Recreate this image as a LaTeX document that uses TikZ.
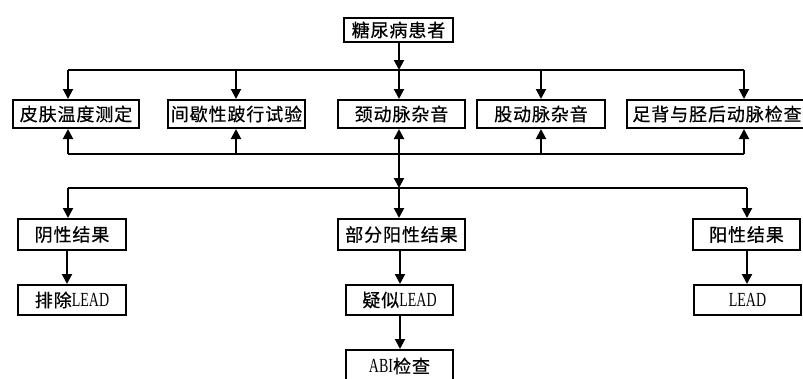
\documentclass[tikz,border=0pt]{standalone}
\usepackage{fontspec}
\usepackage{graphicx}
\setmainfont{Noto Sans CJK SC}[LetterSpace=5,FakeBold=0.5]
\newfontfamily\latfont{Liberation Serif}
\newcommand\LT[1]{{\latfont\fontsize{20}{22}\selectfont\scalebox{0.7}[1]{#1}}}
\usetikzlibrary{arrows.meta}
\begin{document}
\begin{tikzpicture}[x=1pt,y=-1pt,
  box/.style={draw, line width=2pt, rectangle, inner sep=0pt, align=center,
    font=\fontsize{18}{20}\selectfont},
  arr/.style={line width=2pt, -{Triangle[width=10pt,length=10pt]}},
  ln/.style={line width=2pt}]
\useasboundingbox (0,0) rectangle (803,378);
% nodes
\node[box, minimum width=109pt, minimum height=24pt] (top) at (398.5,30) {糖尿病患者};
\node[box, minimum width=126pt, minimum height=28pt] (b1) at (76,114) {皮肤温度测定};
\node[box, minimum width=137pt, minimum height=28pt] (b2) at (236.5,114) {间歇性跛行试验};
\node[box, minimum width=127pt, minimum height=28pt] (b3) at (401.5,114) {颈动脉杂音};
\node[box, minimum width=128pt, minimum height=28pt] (b4) at (541,114) {股动脉杂音};
\node[box, minimum width=180pt, minimum height=28pt] (b5) at (717,114) {足背与胫后动脉检查};
\node[box, minimum width=108pt, minimum height=31pt] (r1) at (72,234.5) {阴性结果};
\node[box, minimum width=127pt, minimum height=31pt] (r2) at (401.5,234.5) {部分阳性结果};
\node[box, minimum width=107pt, minimum height=31pt] (r3) at (746.5,234.5) {阳性结果};
\node[box, minimum width=108pt, minimum height=30pt] (s1) at (72,300) {排除\LT{LEAD}};
\node[box, minimum width=107pt, minimum height=30pt] (s2) at (399.5,300) {疑似\LT{LEAD}};
\node[box, minimum width=107pt, minimum height=30pt] (s3) at (747.5,300) {\LT{LEAD}};
\node[box, minimum width=107pt, minimum height=32pt] (abi) at (399.5,366) {\LT{ABI}检查};
% coordinates on bus lines
\coordinate (a1) at (68,70);
\coordinate (a2) at (236,70);
\coordinate (a3) at (399,70);
\coordinate (a4) at (541,70);
\coordinate (a5) at (744,70);
\coordinate (c1) at (68,154);
\coordinate (c2) at (236,154);
\coordinate (c3) at (399,154);
\coordinate (c4) at (541,154);
\coordinate (c5) at (744,154);
\coordinate (d1) at (68,188);
\coordinate (d3) at (399,188);
\coordinate (d5) at (747,188);
% top to bus 1
\draw[arr] (top.south -| a3) -- (a3);
\draw[ln] (a1) -- (a5);
\draw[arr] (a1) -- (b1.north -| a1);
\draw[arr] (a2) -- (b2.north -| a2);
\draw[arr] (a3) -- (b3.north -| a3);
\draw[arr] (a4) -- (b4.north -| a4);
\draw[arr] (a5) -- (b5.north -| a5);
% bus 2
\draw[ln] (c1) -- (c5);
\draw[arr] (c1) -- (b1.south -| c1);
\draw[arr] (c2) -- (b2.south -| c2);
\draw[arr] (c3) -- (b3.south -| c3);
\draw[arr] (c4) -- (b4.south -| c4);
\draw[arr] (c5) -- (b5.south -| c5);
\draw[arr] (c3) -- (d3);
% bus 3
\draw[ln] (d1) -- (d5);
\draw[arr] (d1) -- (r1.north -| d1);
\draw[arr] (d3) -- (r2.north -| d3);
\draw[arr] (d5) -- (r3.north -| d5);
% results
\draw[arr] (r1.south -| 67,0) -- (s1.north -| 67,0);
\draw[arr] (r2.south -| 400,0) -- (s2.north -| 400,0);
\draw[arr] (r3.south -| 747,0) -- (s3.north -| 747,0);
\draw[arr] (s2.south -| 400,0) -- (abi.north -| 400,0);
\end{tikzpicture}
\end{document}
